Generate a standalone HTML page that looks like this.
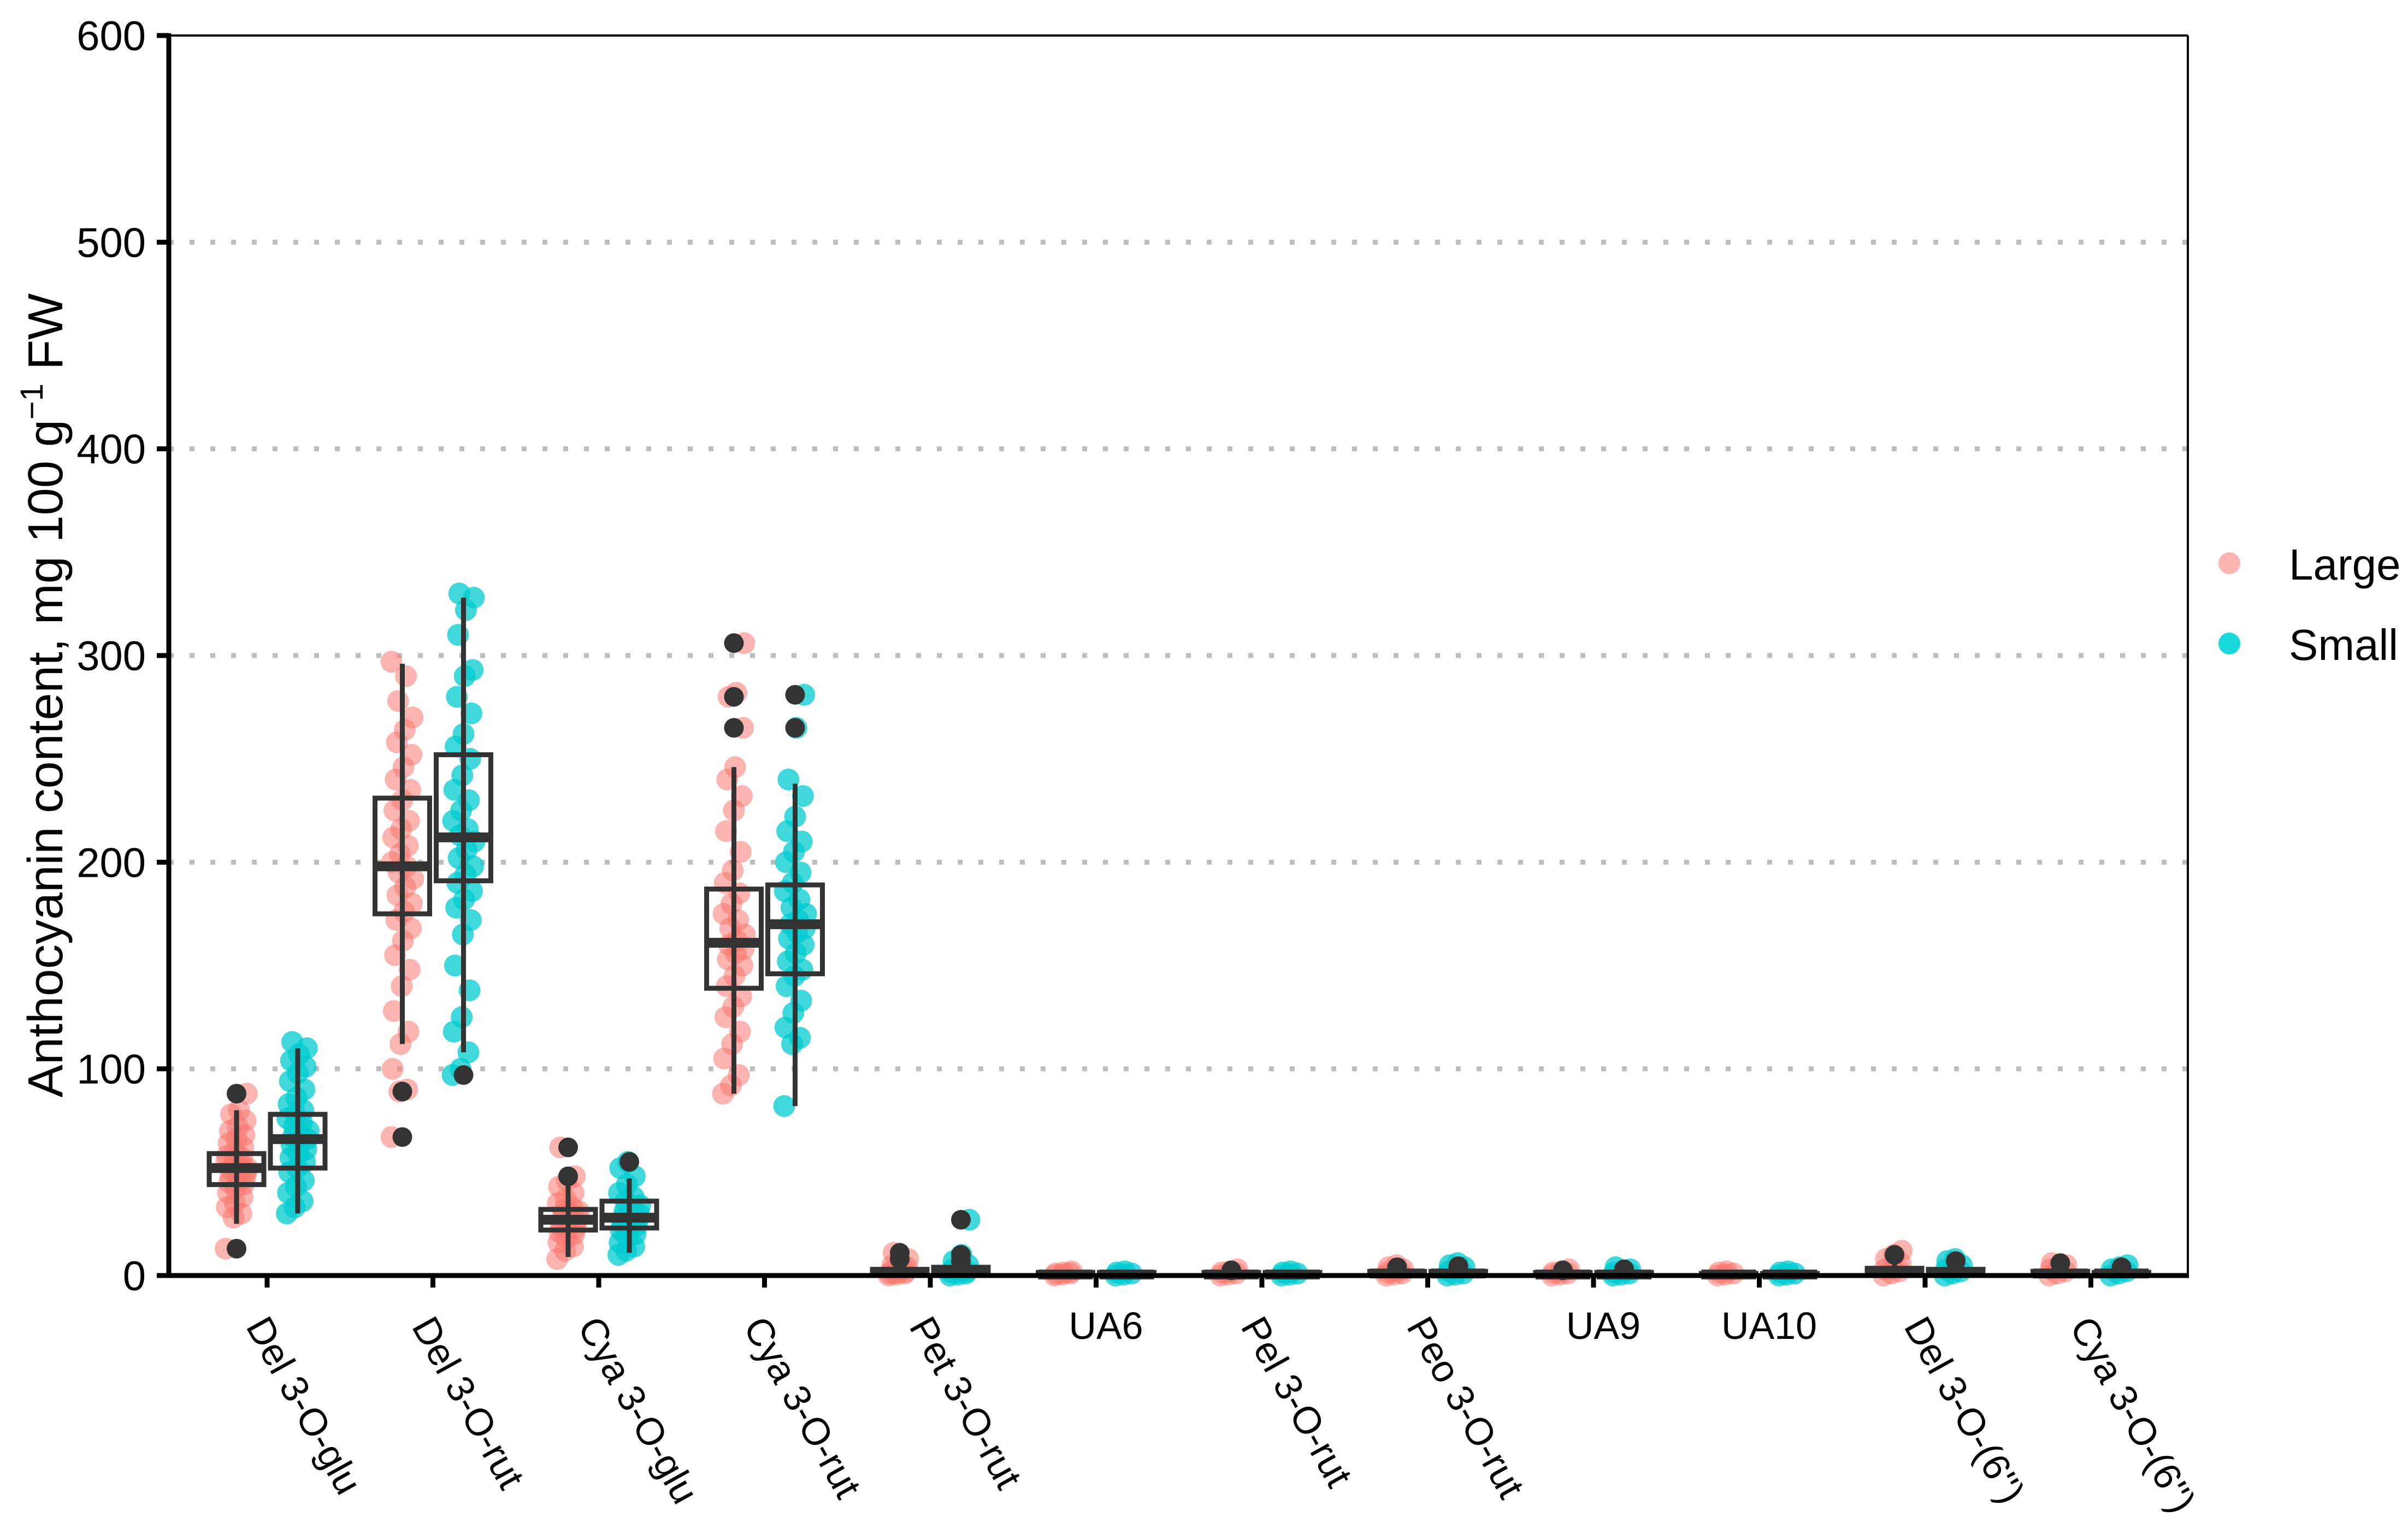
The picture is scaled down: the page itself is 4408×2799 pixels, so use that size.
<!DOCTYPE html>
<html><head><meta charset="utf-8">
<style>
html,body{margin:0;padding:0;background:#fff;}
svg{display:block;font-family:"Liberation Sans",Arial,sans-serif;}
</style></head>
<body>
<svg id="chart" width="4408" height="2799" viewBox="0 0 4408 2799" xmlns="http://www.w3.org/2000/svg">
<rect width="4408" height="2799" fill="#fff"/>
<g id="grid"></g>
<g id="marks"></g>
<g id="axes"></g>
<text transform="translate(114,1273) rotate(-90)" text-anchor="middle" font-size="90">Anthocyanin content, mg 100 g<tspan font-size="58" dy="-36">−1</tspan><tspan dy="36"> FW</tspan></text>
<g>
<circle cx="4081" cy="1031" r="20" fill="#F8766D" fill-opacity="0.55"/>
<text x="4190" y="1061" font-size="80">Large</text>
<circle cx="4081" cy="1178" r="20" fill="#00D4D8" fill-opacity="0.9"/>
<text x="4190" y="1208" font-size="80">Small</text>
</g>
</svg>
<script>
const categories = ["Del 3-O-glu","Del 3-O-rut","Cya 3-O-glu","Cya 3-O-rut","Pet 3-O-rut","UA6","Pel 3-O-rut","Peo 3-O-rut","UA9","UA10","Del 3-O-(6'')","Cya 3-O-(6'')"];
const horizontalLabels = ["UA6","UA9","UA10"];
const yTicks = [0,100,200,300,400,500,600];
const groups = ["Large","Small"];
// box stats per category: [lowWhisker, q1, median, q3, highWhisker]
const largeBox = [[25,44,52,59,80],[112,175,198,231,296],[9,22,27,32,45],[88,139,161,187,246],[0,0,1.5,3,6],[0,0,0.5,1.5,2],[0,0,0.5,1.5,2],[0,0,1,2,3],[0,0,0.5,1.5,2],[0,0,0.5,1,1.5],[0,0,1.5,3.5,8],[0,0,1,2,4]];
const smallBox = [[30,52,66,78,110],[108,191,212,252,328],[11,23,28,36,47],[82,146,170,189,238],[0,0,2,4,6],[0,0,0.5,1.5,2],[0,0,0.5,1.5,2],[0,0,1,2,3.5],[0,0,0.5,1.5,2.5],[0,0,0.5,1,1.5],[0,0,1.5,3,5],[0,0,1,1.5,3]];
const largeOutliers = [[88,13],[89,67],[62,48],[306,280,265],[11,8],[],[2.5],[4],[2.5],[],[10],[6]];
const smallOutliers = [[],[97],[55],[281,265],[27,10,7],[],[],[4.5],[3],[],[7],[4]];
const largePoints = [
[13,28,30,33,35,38,40,42,44,45,46,47,48,49,50,51,52,52,53,54,55,56,57,58,60,62,64,66,68,70,72,75,78,80,88],
[67,89,90,100,112,118,128,140,148,155,162,168,172,176,180,184,188,192,195,198,200,204,208,212,216,220,225,230,235,240,246,252,258,264,270,278,290,297],
[8,12,14,16,18,20,21,22,23,24,25,26,27,27,28,29,30,31,32,33,35,37,40,43,46,48,62],
[88,92,97,105,112,118,125,130,135,140,145,150,153,156,158,160,162,165,168,172,175,180,185,190,196,205,215,225,232,240,246,265,280,282,306],
[0,0.5,1,1,1.5,2,2,3,4,5,7,8,11],
[0,0.5,1,1,1.5,2],
[0,0.5,1,1.5,2,3],
[0,0.5,1,1.5,2,3,4,5],
[0,0.5,1,1.5,2,3],
[0,0.5,1,1.5,2],
[0,1,2,3,4,6,8,10,12],
[0,1,2,3,4,5,6]];
const smallPoints = [
[30,33,36,40,43,46,50,52,55,57,59,61,63,65,66,67,68,70,72,74,76,78,80,83,86,90,94,98,101,104,107,110,113],
[97,100,108,118,125,138,150,165,172,178,182,186,190,194,198,202,206,210,213,216,220,225,230,235,242,250,256,262,272,280,290,293,310,322,328,330],
[10,12,14,16,18,20,22,23,24,25,26,27,28,29,30,31,32,34,36,38,40,44,48,52,55],
[82,112,115,120,127,133,140,145,148,152,156,160,163,166,168,170,172,175,178,182,186,190,195,200,205,210,215,222,232,240,265,281],
[0,0.5,1,1.5,2,2,3,4,5,7,10,27],
[0,0.5,1,1.5,2],
[0,0.5,1,1.5,2],
[0,0.5,1,2,3,4,5,6],
[0,0.5,1,1.5,2,3,4],
[0,0.5,1,1.5,2],
[0,1,2,3,4,5,7,8],
[0,1,2,3,4,5]];

const NS="http://www.w3.org/2000/svg";
const PL=309, PR=4005, PT=65, PB=2335;
const X0=489, XSTEP=303.5, DODGE=56, BOXW=108;
function xScale(i){return X0+i*XSTEP;}
function yScale(v){return PB-(v/600)*(PB-PT);}
function mk(tag,attrs,parent){const e=document.createElementNS(NS,tag);for(const k in attrs)e.setAttribute(k,attrs[k]);parent.appendChild(e);return e;}
const grid=document.getElementById('grid'), marks=document.getElementById('marks'), axes=document.getElementById('axes');

yTicks.forEach(t=>{
  if(t>0&&t<600){
    const g=mk('line',{x1:PL,x2:PR,y1:yScale(t),y2:yScale(t),stroke:'#BEBEBE','stroke-width':9,'stroke-dasharray':'9 29'},grid);
    
    
  }
  const tk=mk('line',{x1:PL-22,x2:PL,y1:yScale(t),y2:yScale(t),stroke:'#000','stroke-width':9},axes);
  
  
  const lb=mk('text',{x:267,y:yScale(t)+27,'text-anchor':'end','font-size':76},axes);
  lb.textContent=t;
  
  
});

const colors={Large:{fill:'#F8766D',op:0.55},Small:{fill:'#00CBCF',op:0.75}};
function drawGroup(ci,g,box,pts,outs){
  const cx=xScale(ci)+(g==='Large'?-DODGE:DODGE);
  const c=colors[g];
  pts.forEach((v,i)=>{
    const jx=(((i*13)%37)/36)*40-20;
    const p=mk('circle',{cx:cx+jx,cy:yScale(v),r:20,fill:c.fill,'fill-opacity':c.op},marks);
    
    
  });
  const [lo,q1,md,q3,hi]=box;
  const w=mk('line',{x1:cx,x2:cx,y1:yScale(lo),y2:yScale(hi),stroke:'#333','stroke-width':9},marks);
  
  
  const r=mk('rect',{x:cx-BOXW/2+4,y:yScale(q3),width:BOXW-8,height:Math.max(0,yScale(q1)-yScale(q3)),fill:'none',stroke:'#333','stroke-width':9},marks);
  
  
  const m=mk('line',{x1:cx-BOXW/2+4,x2:cx+BOXW/2-4,y1:yScale(md),y2:yScale(md),stroke:'#333','stroke-width':18},marks);
  
  
  outs.forEach(v=>{
    const o=mk('circle',{cx:cx,cy:yScale(v),r:18,fill:'#333'},marks);
    
    
  });
}
categories.forEach((cat,i)=>{
  drawGroup(i,'Large',largeBox[i],largePoints[i],largeOutliers[i]);
  drawGroup(i,'Small',smallBox[i],smallPoints[i],smallOutliers[i]);
  const x=xScale(i);
  const tk=mk('line',{x1:x,x2:x,y1:PB,y2:PB+22,stroke:'#000','stroke-width':9},axes);
  
  
  let lb;
  if(horizontalLabels.includes(cat)){
    lb=mk('text',{x:x+18,y:2451,'text-anchor':'middle','font-size':70},axes);
  } else {
    lb=mk('text',{transform:'translate('+(x-40)+',2428) rotate(61)','font-size':70},axes);
  }
  lb.textContent=cat;
  
  
});

const frame=[[PL,PT,PR,PT,4],[PR,PT,PR,PB,4],[PL,PT-4,PL,PB+4,9],[PL-4,PB,PR+2,PB,9]];
frame.forEach((f,i)=>{
  const l=mk('line',{x1:f[0],y1:f[1],x2:f[2],y2:f[3],stroke:'#000','stroke-width':f[4]},axes);
  
  
});
</script>
</body></html>
